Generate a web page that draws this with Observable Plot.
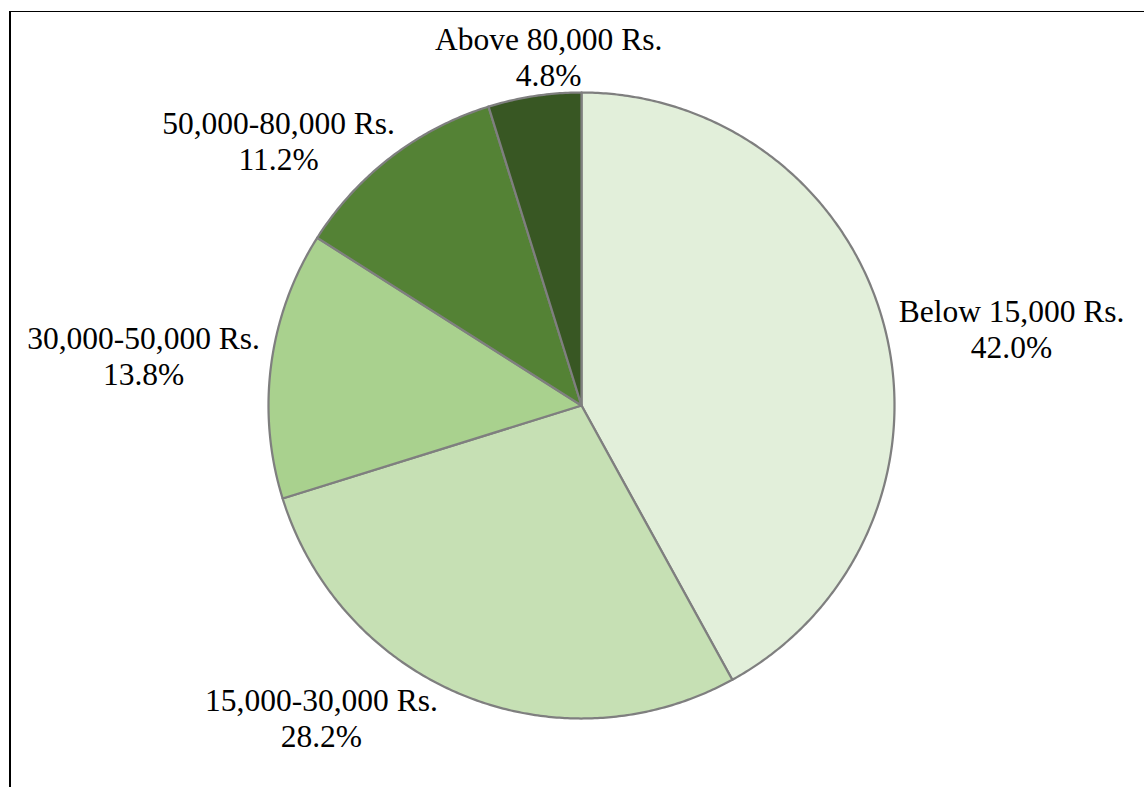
<!DOCTYPE html>
<html><head><meta charset="utf-8">
<script src="https://cdn.jsdelivr.net/npm/d3@7"></script>
<script src="https://cdn.jsdelivr.net/npm/@observablehq/plot@0.6"></script>
<style>
html,body{margin:0;padding:0;background:#fff;overflow:hidden;width:1144px;height:787px}
#chart{position:absolute;left:0;top:0}
#frame{position:absolute;left:9px;top:11px;width:1200px;height:800px;border-top:1.5px solid #000;border-left:2px solid #000;box-sizing:border-box;pointer-events:none}
</style></head><body>
<div id="chart"></div><div id="frame"></div>
<script>
// Data
const categories = ["Below 15,000 Rs.", "15,000-30,000 Rs.", "30,000-50,000 Rs.", "50,000-80,000 Rs.", "Above 80,000 Rs."];
const shares = [42.0, 28.2, 13.8, 11.2, 4.8];
const sliceColors = ["#E2EFDA", "#C6E0B4", "#A9D18E", "#548235", "#385723"];
// Layout: label block centres, in units of pie radius from the pie centre
const labelPlacement = [[1.374, 0.246], [-0.831, -0.996], [-1.399, 0.160], [-0.968, 0.847], [-0.105, 1.115]];

const W = 1144, H = 787, cx = 581, cy = 405, R = 313;

const arcs = d3.pie().sort(null).value(d => d)(shares);
const slicePts = [];
arcs.forEach((p, i) => {
  const cat = categories[i];
  slicePts.push({cat, x: 0, y: 0});
  const n = Math.max(2, Math.ceil((p.endAngle - p.startAngle) / (Math.PI / 360)));
  for (let k = 0; k <= n; k++) {
    const a = p.startAngle + (p.endAngle - p.startAngle) * k / n;
    slicePts.push({cat, x: Math.sin(a), y: Math.cos(a)});
  }
  slicePts.push({cat, x: 0, y: 0});
});

const labels = categories.map((c, i) => ({
  text: `${c}\n${shares[i].toFixed(1)}%`,
  x: labelPlacement[i][0],
  y: labelPlacement[i][1]
}));

const chart = Plot.plot({
  width: W, height: H,
  margin: 0,
  style: {background: "transparent"},
  x: {domain: [-cx / R, (W - cx) / R], axis: null},
  y: {domain: [-(H - cy) / R, cy / R], axis: null},
  color: {domain: categories, range: sliceColors},
  marks: [
    Plot.line(slicePts, {x: "x", y: "y", z: "cat", fill: "cat", stroke: "#7f7f7f", strokeWidth: 2.25, strokeLinejoin: "round", curve: "linear"}),
    Plot.text(labels, {x: "x", y: "y", text: "text", fontFamily: "'Times New Roman', 'Liberation Serif', serif", fontSize: 31.5, lineHeight: 1.15, fill: "#000"})
  ]
});
document.getElementById("chart").appendChild(chart);
</script>
</body></html>
